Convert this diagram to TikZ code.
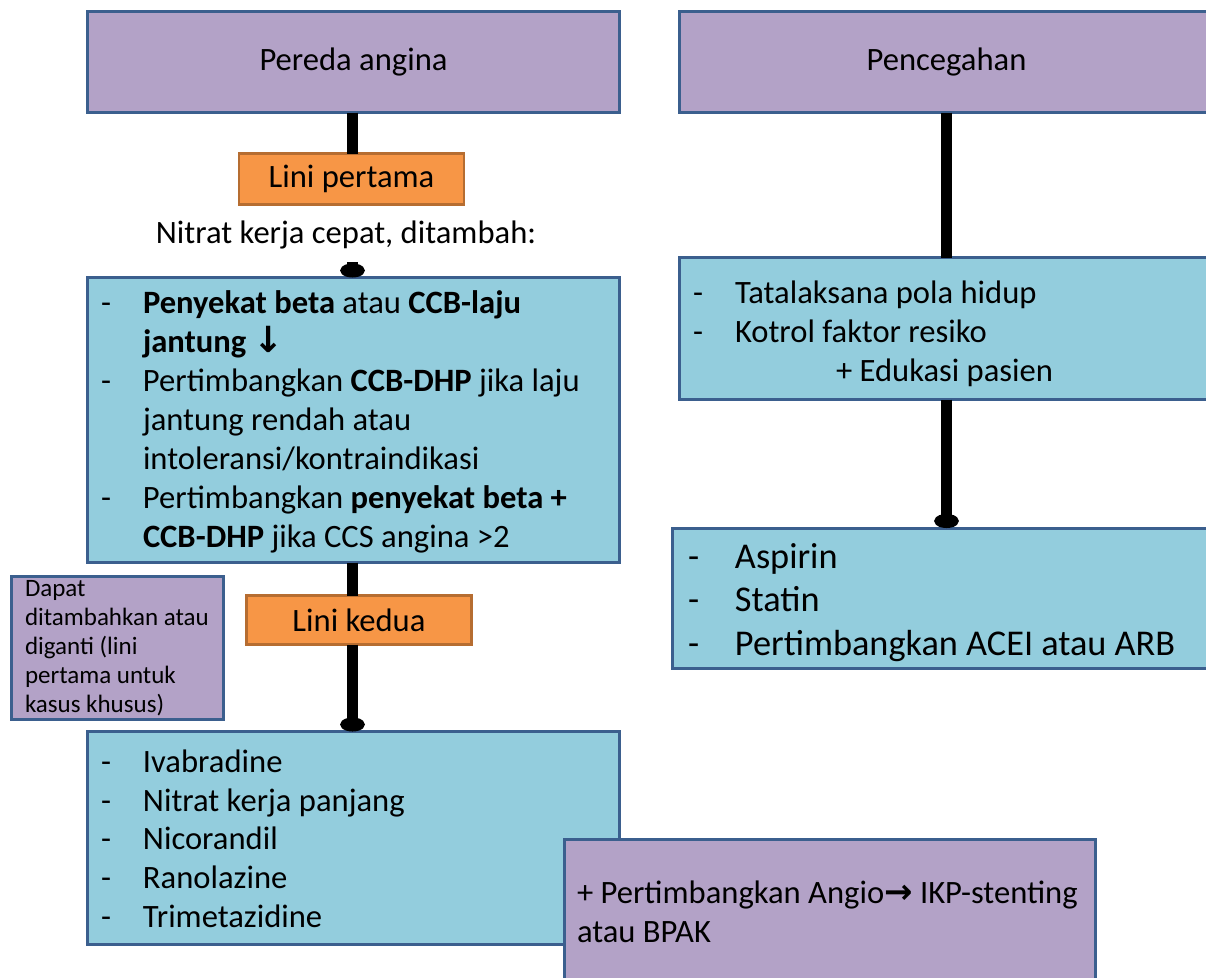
\documentclass[tikz,border=0pt]{standalone}
\usepackage{fontspec}
\setmainfont{Carlito}
\newfontfamily\symfont{DejaVu Sans}
\usetikzlibrary{arrows.meta}
\definecolor{purp}{HTML}{B3A2C7}
\definecolor{aqua}{HTML}{93CDDD}
\definecolor{orng}{HTML}{F79646}
\definecolor{orngb}{HTML}{B66D31}
\definecolor{edge}{HTML}{3B5F8E}
\tikzset{
  box/.style={draw=edge, line width=3pt, rectangle, anchor=north west, inner sep=0pt, outer sep=0pt, font=\fontsize{32.6}{39}\selectfont},
  pbox/.style={box, fill=purp},
  bbox/.style={box, fill=aqua},
  obox/.style={draw=orngb, line width=2.5pt, fill=orng, rectangle, anchor=north west, inner sep=0pt, outer sep=0pt, font=\fontsize{32.6}{39}\selectfont},
  txt/.style={anchor=base west, inner sep=0pt, outer sep=0pt, font=\fontsize{32.6}{39}\selectfont},
  bigtxt/.style={txt, font=\fontsize{36.3}{43.5}\selectfont},
  smalltxt/.style={txt, font=\fontsize{25}{29}\selectfont},
  conn/.style={line width=11pt, black},
  conndot/.style={conn, -{Circle[length=14pt,width=24pt]}},
}
\newcommand\bl[1]{\makebox[42pt][l]{-}#1}
\newcommand\blb[1]{\makebox[47pt][l]{-}#1}
\begin{document}
\begin{tikzpicture}[x=1pt,y=-1pt]
\useasboundingbox (0,0) rectangle (1206,977);
% left column
\node[pbox, minimum width=532pt, minimum height=101pt] (pereda) at (87.5,11.5) {Pereda angina};
\node[obox, minimum width=225pt, minimum height=51pt] (lp) at (239,153.5) {Lini pertama};
\node[txt, anchor=base] (nitrat) at (346,243) {Nitrat kerja cepat, ditambah:};
\coordinate (nt) at (352.5,262);
\node[bbox, minimum width=532pt, minimum height=285pt] (b1) at (87.5,277.5) {};
\node[obox, minimum width=225pt, minimum height=49pt] (lk) at (246.5,595.5) {Lini kedua};
\node[pbox, minimum width=212pt, minimum height=143pt] (note) at (11.5,576.5) {};
\node[bbox, minimum width=532pt, minimum height=213pt] (b2) at (87.5,731.5) {};
% right column
\node[pbox, minimum width=534pt, minimum height=101pt] (pen) at (679.5,11.5) {Pencegahan};
\node[bbox, minimum width=534pt, minimum height=142pt] (r1) at (679.5,257.5) {};
\node[bbox, minimum width=541pt, minimum height=140pt] (r3) at (672.5,528) {};
% bottom purple
\node[pbox, minimum width=531pt, minimum height=160pt] (angio) at (564.5,839.5) {};

% connectors
\draw[conn] (pereda.south -| nt) -- (lp.north -| nt);
\draw[conndot] (nt) -- (b1.north -| nt);
\draw[conn] (b1.south -| nt) -- (lk.north -| nt);
\draw[conndot] (lk.south -| nt) -- (b2.north -| nt);
\draw[conn] (pen.south) -- (r1.north);
\draw[conndot] (r1.south) -- (r1.south |- r3.north);

% texts box 1
\node[txt] (b1l1) at (101,313) {\bl{\textbf{Penyekat beta} atau \textbf{CCB-laju}}};
\node[txt] (b1l2) at (143,352) {\textbf{jantung} {\symfont\bfseries\fontsize{36}{39}\selectfont ↓}};
\node[txt] (b1l3) at (101,391) {\bl{Pertimbangkan \textbf{CCB-DHP} jika laju}};
\node[txt] (b1l4) at (143,430) {jantung rendah atau};
\node[txt] (b1l5) at (143,469) {intoleransi/kontraindikasi};
\node[txt] (b1l6) at (101,508) {\bl{Pertimbangkan \textbf{penyekat beta +}}};
\node[txt] (b1l7) at (143,547) {\textbf{CCB-DHP} jika CCS angina >2};

% note box
\node[smalltxt] (n1) at (25,596) {Dapat};
\node[smalltxt] (n2) at (25,625) {ditambahkan atau};
\node[smalltxt] (n3) at (25,654) {diganti (lini};
\node[smalltxt] (n4) at (25,683) {pertama untuk};
\node[smalltxt] (n5) at (25,712) {kasus khusus)};

% box 2
\node[txt] (b2l1) at (101,772) {\bl{Ivabradine}};
\node[txt] (b2l2) at (101,811) {\bl{Nitrat kerja panjang}};
\node[txt] (b2l3) at (101,849.5) {\bl{Nicorandil}};
\node[txt] (b2l4) at (101,888) {\bl{Ranolazine}};
\node[txt] (b2l5) at (101,927) {\bl{Trimetazidine}};

% right box 1
\node[txt] (r1l1) at (693,303) {\bl{Tatalaksana pola hidup}};
\node[txt] (r1l2) at (693,342) {\bl{Kotrol faktor resiko}};
\node[txt] (r1l3) at (836,381) {+ Edukasi pasien};

% right box 3
\node[bigtxt] (r3l1) at (688,568) {\blb{Aspirin}};
\node[bigtxt] (r3l2) at (688,611.5) {\blb{Statin}};
\node[bigtxt] (r3l3) at (688,655) {\blb{Pertimbangkan ACEI atau ARB}};

% angio box
\node[txt] (a1) at (577,903) {+ Pertimbangkan Angio{\symfont\bfseries\fontsize{34}{39}\selectfont →} IKP-stenting};
\node[txt] (a2) at (577,942) {atau BPAK};
\end{tikzpicture}
\end{document}
